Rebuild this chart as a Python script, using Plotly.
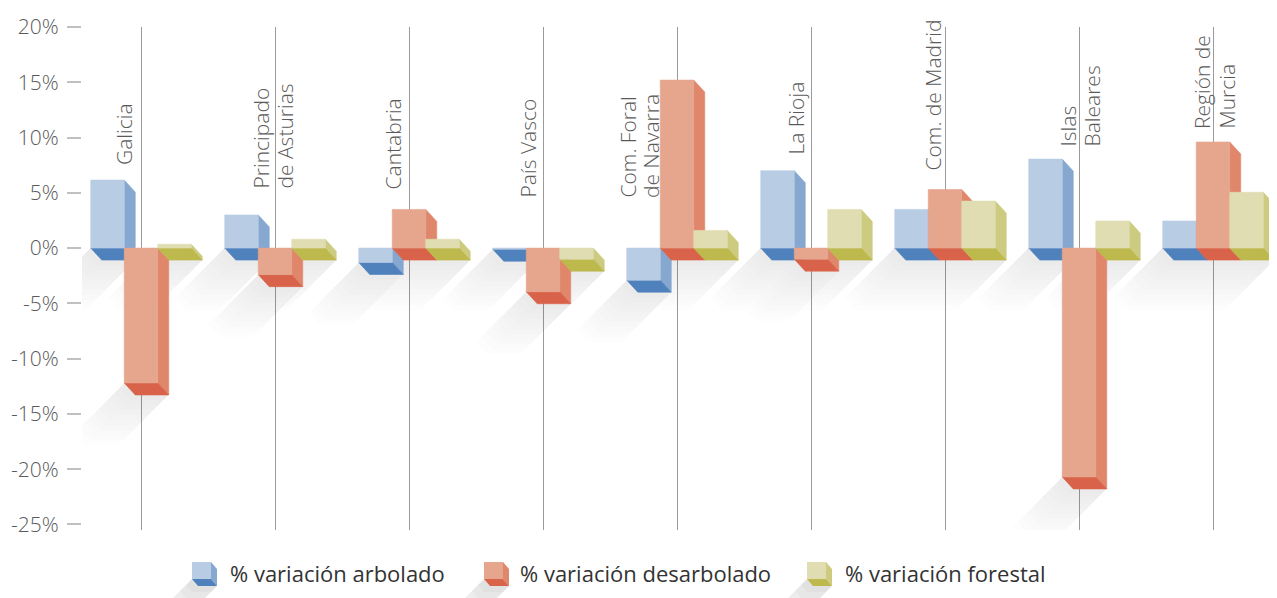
import plotly.graph_objects as go

# ---------------- data ----------------
regions = ["Galicia", "Principado<br>de Asturias", "Cantabria", "País Vasco",
           "Com. Foral<br>de Navarra", "La Rioja", "Com. de Madrid",
           "Islas<br>Baleares", "Región de<br>Murcia"]
arbolado = [6.15, 3.0, -1.3, -0.1, -2.9, 7.0, 3.5, 8.05, 2.45]
desarbolado = [-12.2, -2.4, 3.5, -3.95, 15.2, -1.0, 5.3, -20.7, 9.6]
forestal = [0.35, 0.8, 0.8, -1.0, 1.6, 3.5, 4.25, 2.45, 5.05]
series_names = ["% variación arbolado", "% variación desarbolado", "% variación forestal"]
y_tick_vals = [20, 15, 10, 5, 0, -5, -10, -15, -20, -25]
y_tick_text = ["20%", "15%", "10%", "5%", "0%", "-5%", "-10%", "-15%", "-20%", "-25%"]

# ---------------- style / layout ----------------
PAGE_OFF = 8                      # default body margin of the html page
PLOT_L, PLOT_T, PLOT_B = 82, 27, 530   # plot area in page pixels
W, H = 1269, 590
ML, MT = PLOT_L - PAGE_OFF, PLOT_T - PAGE_OFF
MB = H - (PLOT_B - PAGE_OFF)
MR = 0
PW, PH = W - ML - MR, H - MT - MB
Y_RANGE = [-25.5, 20]
GROUP_PX = 134.0
X_RANGE = [-59 / GROUP_PX, -59 / GROUP_PX + PW / GROUP_PX]
PX_X = PW / (X_RANGE[1] - X_RANGE[0])   # pixels per x unit
PX_Y = PH / (Y_RANGE[1] - Y_RANGE[0])   # pixels per y unit
DX = 11 / PX_X
DY = 12 / PX_Y
BAR_W = 0.25
OFFSETS = [-0.25, 0.0, 0.25]

COLORS = [
    {"front": "#b8cce4", "side": "#85a7d0", "bottom": "#4f81bd"},
    {"front": "#e6a58d", "side": "#e0866b", "bottom": "#d9634a"},
    {"front": "#dfddb1", "side": "#cdcb80", "bottom": "#bdb94c"},
]
FONT = "Open Sans"
TXT = "#5a5a5a"

LABEL_FIRST_X = [-7, -5, -7, -6, -40, -6, -3, -2, -1]
LABEL_LINE_GAP = 24
LABEL_BOTTOM_PX = [167, 191, 192, 200, 200, 157, 173, 149, 131]
BOX_PAD = 6

SHADOW_STEPS = [5, 10, 15, 20, 25, 30, 35, 40, 45, 50]
SHADOW_ALPHA = 0.013


def join(polys):
    xs, ys = [], []
    for p in polys:
        for (a, b) in p:
            xs.append(a)
            ys.append(b)
        xs.append(p[0][0])
        ys.append(p[0][1])
        xs.append(None)
        ys.append(None)
    return xs, ys


fig = go.Figure()
all_series = [arbolado, desarbolado, forestal]

for L in SHADOW_STEPS:
    lx, ly = L / PX_X, L / PX_Y
    polys = []
    for s, vals in enumerate(all_series):
        for i, v in enumerate(vals):
            x0 = i + OFFSETS[s] - BAR_W / 2
            x1 = x0 + BAR_W
            low = min(0, v)
            polys.append([(x1, low), (x1 + DX, low - DY), (x1 + DX - lx, low - DY - ly),
                          (x0 + DX - lx, low - DY - ly), (x0 - lx, low - ly), (x0, low)])
    xs, ys = join(polys)
    fig.add_trace(go.Scatter(x=xs, y=ys, mode="lines", fill="toself", line=dict(width=0),
                             fillcolor=f"rgba(60,60,60,{SHADOW_ALPHA})", hoverinfo="skip",
                             showlegend=False))

for s, vals in enumerate(all_series):
    sides, bottoms, fronts = [], [], []
    for i, v in enumerate(vals):
        x0 = i + OFFSETS[s] - BAR_W / 2
        x1 = x0 + BAR_W
        top, low = max(0, v), min(0, v)
        sides.append([(x1, top), (x1 + DX, top - DY), (x1 + DX, low - DY), (x1, low)])
        bottoms.append([(x0, low), (x1, low), (x1 + DX, low - DY), (x0 + DX, low - DY)])
        fronts.append([(x0, top), (x1, top), (x1, low), (x0, low)])
    for polys, key in [(sides, "side"), (bottoms, "bottom"), (fronts, "front")]:
        xs, ys = join(polys)
        fig.add_trace(go.Scatter(x=xs, y=ys, mode="lines", fill="toself",
                                 line=dict(width=0.6, color=COLORS[s][key]),
                                 fillcolor=COLORS[s][key], name=series_names[s],
                                 hoverinfo="skip", showlegend=False))

annotations = []
for i, r in enumerate(regions):
    yb = Y_RANGE[1] - (LABEL_BOTTOM_PX[i] - PLOT_T) / PX_Y
    for k, line in enumerate(r.split("<br>")):
        annotations.append(dict(x=i, y=yb, xref="x", yref="y", text=line, textangle=-90,
                                xanchor="right", yanchor="bottom",
                                xshift=LABEL_FIRST_X[i] + k * LABEL_LINE_GAP + BOX_PAD,
                                showarrow=False,
                                font=dict(family=FONT, size=21, color=TXT, weight=300)))


def px2paper(px, py):
    return ((px - PLOT_L) / PW, (PLOT_B - py) / PH)


def path(points):
    pts = [px2paper(a, b) for a, b in points]
    return "M " + " L ".join(f"{a:.5f},{b:.5f}" for a, b in pts) + " Z"


shapes = []
LEG_X = [192, 484, 807]
LEG_TX = [228, 518, 843]
ICON_TOP, ICON_W, ICON_H, IDX, IDY = 562, 19, 17, 6, 7
for s in range(3):
    x0 = LEG_X[s]
    x1 = x0 + ICON_W
    yb = ICON_TOP + ICON_H
    for L in [6, 12, 18, 24, 30]:
        shapes.append(dict(type="path", xref="paper", yref="paper", layer="below",
                           path=path([(x1, yb), (x1 + IDX, yb + IDY), (x1 + IDX - L, yb + IDY + L),
                                      (x0 + IDX - L, yb + IDY + L), (x0 - L, yb + L), (x0, yb)]),
                           fillcolor="rgba(60,60,60,0.03)", line=dict(width=0)))
    shapes.append(dict(type="path", xref="paper", yref="paper",
                       path=path([(x1, ICON_TOP), (x1 + IDX, ICON_TOP + IDY), (x1 + IDX, yb + IDY), (x1, yb)]),
                       fillcolor=COLORS[s]["side"], line=dict(width=0)))
    shapes.append(dict(type="path", xref="paper", yref="paper",
                       path=path([(x0, yb), (x1, yb), (x1 + IDX, yb + IDY), (x0 + IDX, yb + IDY)]),
                       fillcolor=COLORS[s]["bottom"], line=dict(width=0)))
    shapes.append(dict(type="path", xref="paper", yref="paper",
                       path=path([(x0, ICON_TOP), (x1, ICON_TOP), (x1, yb), (x0, yb)]),
                       fillcolor=COLORS[s]["front"], line=dict(width=0)))
    tx, ty = px2paper(LEG_TX[s], 573)
    annotations.append(dict(x=tx, y=ty, xref="paper", yref="paper", text=series_names[s],
                            xanchor="left", yanchor="middle", showarrow=False,
                            font=dict(family=FONT, size=22, color="#333333")))

fig.update_layout(
    width=W, height=H,
    margin=dict(l=ML, r=MR, t=MT, b=MB, pad=0),
    plot_bgcolor="white", paper_bgcolor="white",
    showlegend=False,
    annotations=annotations, shapes=shapes,
    xaxis=dict(range=X_RANGE, tickvals=list(range(len(regions))), showticklabels=False,
               showgrid=True, gridcolor="#9a9a9a", gridwidth=1, zeroline=False,
               showline=False, ticks="", fixedrange=True),
    yaxis=dict(range=Y_RANGE, tickvals=y_tick_vals, ticktext=y_tick_text,
               showgrid=False, zeroline=False, showline=False,
               ticks="outside", ticklen=14, tickwidth=1.5, tickcolor="#c0c0c0",
               ticklabelstandoff=4,
               tickfont=dict(family=FONT, size=21, color=TXT, weight=300), fixedrange=True),
)

fig.write_html("out.html")
